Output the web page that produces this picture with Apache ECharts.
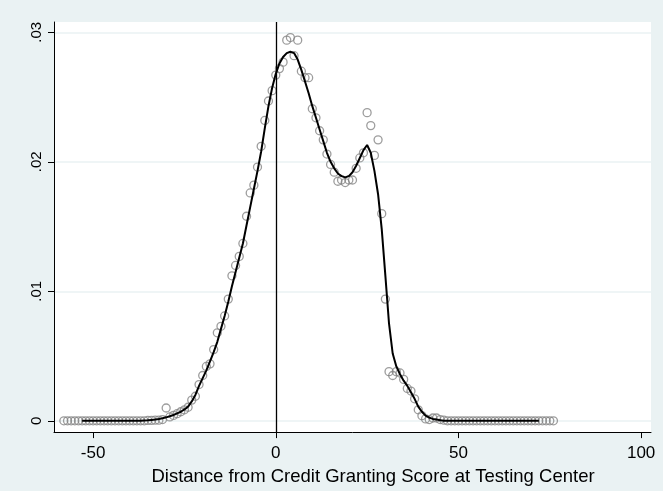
<!DOCTYPE html>
<html>
<head>
<meta charset="utf-8">
<script src="https://cdn.jsdelivr.net/npm/echarts@6/dist/echarts.min.js"></script>
<style>
html,body{margin:0;padding:0;background:#EAF2F3;}
#chart{width:663px;height:491px;}
</style>
</head>
<body>
<div id="chart"></div>
<script>
// Scatter points (binned density), x positions
var pointX = [-58,-57,-56,-55,-54,-53,-52,-51,-50,-49,-48,-47,-46,-45,-44,-43,-42,-41,-40,-39,-38,-37,-36,
  -35,-34,-33,-32,-31,-30,-29,-28,-27,-26,-25,-24,-23,-22,-21,-20,-19,-18,-17,-16,-15,-14,-13,-12,-11,-10,
  -9,-8,-7,-6,-5,-4,-3,-2,-1,0,1,2,3,4,5,6,7,8,9,10,11,12,13,14,15,16,17,18,19,20,21,22,23,24,25,26,27,28,29,30,
  31,32,33,34,35,36,37,38,39,40,41,42,43,44,45,46,
  47,48,49,50,51,52,53,54,55,56,57,58,59,60,61,62,63,64,65,66,67,68,69,70,71,72,73,74,75,76];
var pointY = [0,0,0,0,0,0,0,0,0,0,0,0,0,0,0,0,0,0,0,0,0,0,0,
  0.00003,0.00003,0.00005,0.00005,0.0001,0.00099,0.0003,0.00042,0.00055,0.0007,0.00085,0.00105,0.0016,0.0019,0.0028,0.0035,
  0.0042,0.0044,0.0055,0.0068,0.0073,0.0081,0.0094,0.0112,0.0120,0.0127,
  0.0137,0.0158,0.0176,0.0182,0.0196,0.0212,0.0232,0.0247,0.0255,0.0267,0.0272,0.0277,0.0294,0.0296,0.0282,0.0294,
  0.0270,0.0265,0.0265,0.0241,0.0234,0.0224,0.0217,0.0206,0.0198,0.0192,0.0185,0.0186,0.0184,0.0186,0.0186,
  0.0195,0.0203,0.0207,0.0238,0.0228,0.0205,0.0217,0.0160,0.0094,
  0.0038,0.0035,0.0038,0.0037,0.0032,0.0025,0.0023,0.0017,0.00085,0.0004,0.00015,0.0001,0.00022,0.00022,0.0001,0.00005,
  0,0,0,0,0,0,0,0,0,0,0,0,0,0,0,0,0,0,0,0,0,0,0,0,0,0,0,0,0,0];

// Smoothed density line
var lineX = [-53,-52,-51,-50,-49,-48,-47,-46,-45,-44,-43,-42,-41,-40,-39,-38,-37,
  -36,-35,-34,-33,-32,-31,-30,-29,-28,-27,-26,-25,-24,-23,-22,-21,-20,-19,-18,-17,-16,-15,-14,-13,-12,-11,-10,
  -9,-8,-7,-6,-5,-4,-3,-2,-1,0,1,2,3,4,5,6,7,8,9,10,11,12,13,14,15,16,17,18,19,20,21,22,23,24,25,26,27,28,29,30,
  31,32,33,34,35,36,37,38,39,40,41,42,43,44,45,
  46,47,48,49,50,51,52,53,54,55,56,57,58,59,60,61,62,63,64,65,66,67,68,69,70,71,72];
var lineY = [0,0,0,0,0,0,0,0,0,0,0,0,0,0,0,0,0,
  0.00002,0.00004,0.00007,0.0001,0.00014,0.0002,0.00027,0.00035,0.00045,0.00057,0.0007,0.00088,0.0011,0.0015,0.002,0.0027,0.0033,0.0039,0.0046,0.0053,0.0061,0.0071,0.0081,0.0092,0.0104,0.0115,0.0126,
  0.0137,0.0151,0.0165,0.0179,0.0193,0.0208,0.0226,0.0243,0.0257,0.0268,0.0276,0.0281,0.0284,0.0285,0.0284,0.0279,
  0.0271,0.0262,0.0253,0.0243,0.0234,0.0225,0.0216,0.0207,0.0200,0.0195,0.0191,0.0189,0.0188,0.0189,0.0192,
  0.0197,0.0203,0.0209,0.0213,0.0207,0.0193,0.0175,0.0148,0.0112,
  0.0075,0.0052,0.0042,0.0036,0.0031,0.0027,0.0022,0.0017,0.0011,0.0007,0.0004,0.00025,0.00015,0.0001,0.00005,
  0,0,0,0,0,0,0,0,0,0,0,0,0,0,0,0,0,0,0,0,0,0,0,0,0,0,0];

var xTicks = [-50, 0, 50, 100];
var yTicks = [0, 0.01, 0.02, 0.03];
var xTitle = 'Distance from Credit Granting Score at Testing Center';
var refLineX = 0;

var FONT = '"Liberation Sans", Arial, sans-serif';
var scatterData = pointX.map(function (x, i) { return [x, pointY[i]]; });
var lineData = lineX.map(function (x, i) { return [x, lineY[i]]; });

var chart = echarts.init(document.getElementById('chart'), null, {renderer: 'canvas'});
chart.setOption({
  animation: false,
  backgroundColor: '#EAF2F3',
  grid: {left: 54, right: 12, top: 22, bottom: 53, show: true, backgroundColor: '#ffffff', borderWidth: 0, containLabel: false},
  xAxis: {
    type: 'value', min: -60.7, max: 102.7,
    axisLine: {show: true, onZero: false, lineStyle: {color: '#000', width: 1}},
    axisTick: {show: true, customValues: xTicks, length: 6, lineStyle: {color: '#000', width: 1}},
    axisLabel: {customValues: xTicks, fontSize: 17, color: '#000', margin: 13, fontFamily: FONT},
    splitLine: {show: false},
    name: xTitle, nameLocation: 'middle', nameGap: 28,
    nameTextStyle: {fontSize: 18.5, color: '#000', fontFamily: FONT, padding: [0, 0, 0, 41]}
  },
  yAxis: {
    type: 'value', min: -0.00087, max: 0.0308,
    axisLine: {show: true, onZero: false, lineStyle: {color: '#000', width: 1}},
    axisTick: {show: true, customValues: yTicks, length: 6, lineStyle: {color: '#000', width: 1}},
    axisLabel: {customValues: yTicks, fontSize: 15, color: '#000', margin: 10, rotate: 90, fontFamily: FONT,
      formatter: function (v) { return v === 0 ? '0' : String(+v.toFixed(4)).replace(/^0\./, '.'); }},
    splitLine: {show: true, lineStyle: {color: '#EAF2F3', width: 1.5}}
  },
  series: [
    {
      type: 'scatter', data: scatterData, symbol: 'circle', symbolSize: 8,
      itemStyle: {color: 'rgba(0,0,0,0)', borderColor: '#858585', borderWidth: 1.3},
      z: 2, silent: true
    },
    {
      type: 'line', data: lineData, showSymbol: false, symbol: 'none',
      lineStyle: {color: '#000', width: 2}, z: 3, silent: true,
      markLine: {
        silent: true, symbol: ['none', 'none'], label: {show: false},
        lineStyle: {color: '#000', width: 1.3, type: 'solid'},
        data: [{xAxis: refLineX}]
      }
    }
  ]
});
</script>
</body>
</html>
